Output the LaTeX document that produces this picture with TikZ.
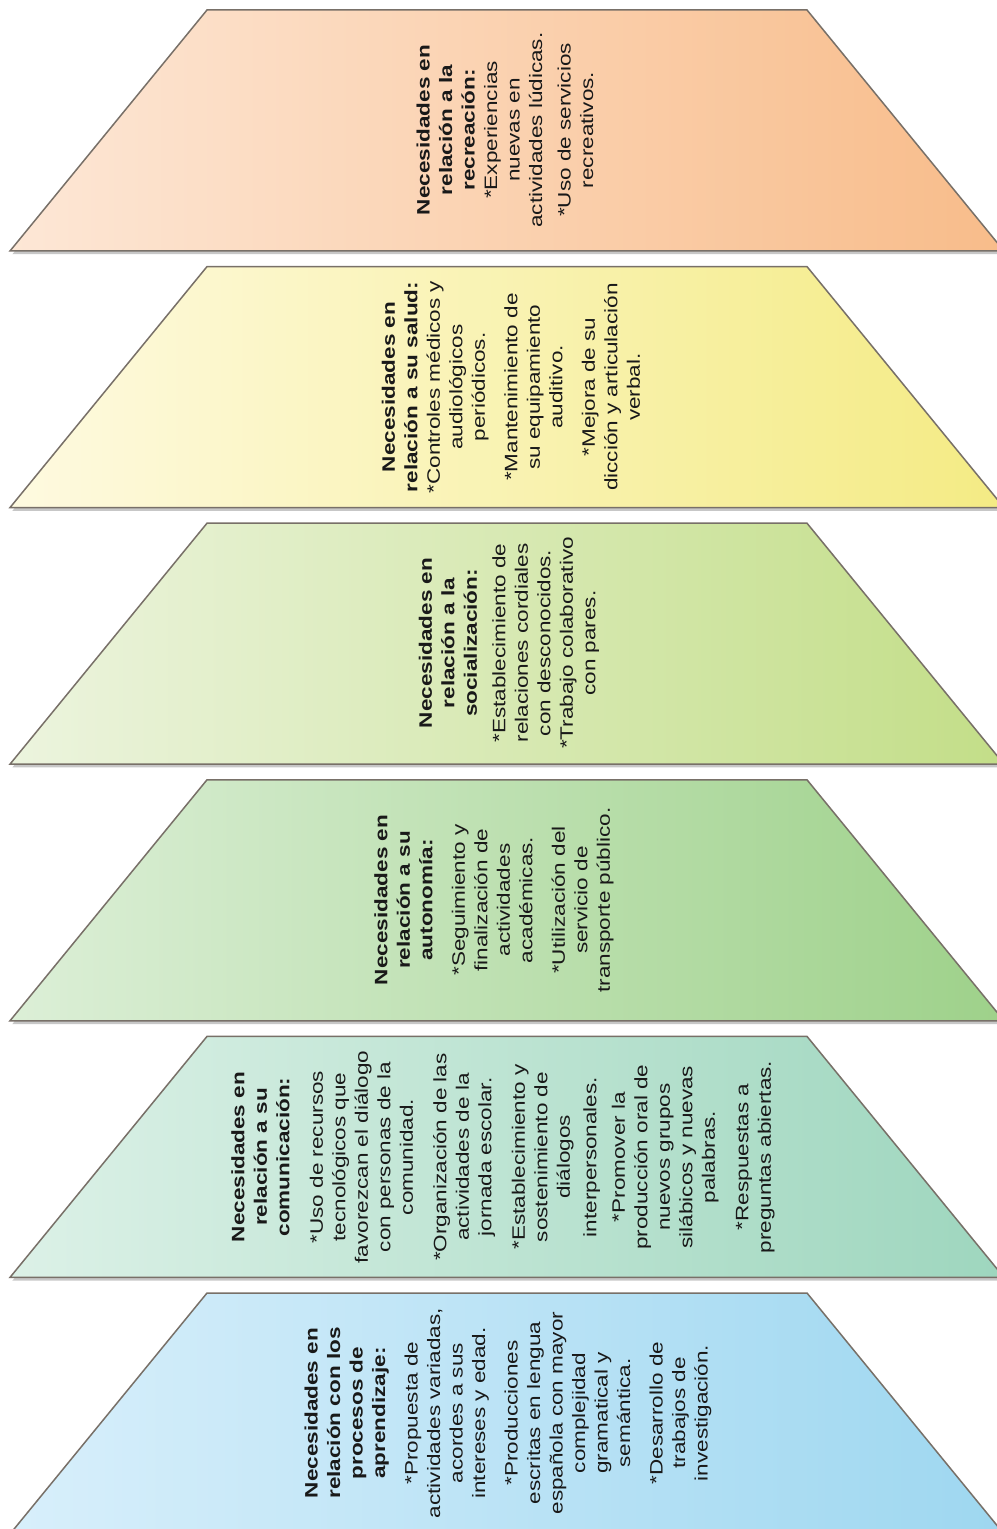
\documentclass[tikz,border=0pt]{standalone}
\usepackage{fontspec}
\setmainfont{Liberation Sans}[FakeStretch=1.25]
\usetikzlibrary{shadows}
\definecolor{edge}{RGB}{120,112,104}
\definecolor{txtc}{RGB}{25,25,25}
\definecolor{orL}{RGB}{253,231,214}\definecolor{orR}{RGB}{248,188,138}
\definecolor{yeL}{RGB}{254,250,224}\definecolor{yeR}{RGB}{244,235,132}
\definecolor{g1L}{RGB}{236,244,222}\definecolor{g1R}{RGB}{195,222,136}
\definecolor{g2L}{RGB}{220,239,215}\definecolor{g2R}{RGB}{158,209,138}
\definecolor{tcL}{RGB}{220,241,231}\definecolor{tcR}{RGB}{158,214,190}
\definecolor{blL}{RGB}{216,239,251}\definecolor{blR}{RGB}{158,215,240}
\newcommand\trapz[4]{%
  \coordinate (#4tl) at (207,#1);
  \coordinate (#4tr) at (807,#1);
  \coordinate (#4br) at (1004,#1+241);
  \coordinate (#4bl) at (10,#1+241);
  \path[trapbox,left color=#2,right color=#3] (#4tl) -- (#4tr) -- (#4br) -- (#4bl) -- cycle;}
\begin{document}
\begin{tikzpicture}[x=0.5pt,y=-0.5pt,
  trapbox/.style={draw=edge,line width=0.75pt,
    drop shadow={shadow xshift=1.2pt,shadow yshift=-1.6pt,opacity=0.22,fill=black}},
  txt/.style={rotate=90,align=center,text=txtc,inner sep=0pt,
    font=\fontsize{9}{11.25}\selectfont}]
\useasboundingbox (0,0) rectangle (996,1529);
\fill[white] (0,0) rectangle (996,1529);
\trapz{10}{orL}{orR}{o}
\trapz{266.6}{yeL}{yeR}{y}
\trapz{523.2}{g1L}{g1R}{s}
\trapz{779.8}{g2L}{g2R}{a}
\trapz{1036.4}{tcL}{tcR}{c}
\trapz{1293}{blL}{blR}{b}
\node[txt] (torange) at (505,130) {\textbf{Necesidades en}\\\textbf{relación a la}\\\textbf{recreación:}\\*Experiencias\\nuevas en\\actividades lúdicas.\\[3pt]*Uso de servicios\\recreativos.};
\node[txt] (tyellow) at (511,387) {\textbf{Necesidades en}\\\textbf{relación a su salud:}\\*Controles médicos y\\audiológicos\\periódicos.\\[5pt]*Mantenimiento de\\su equipamiento\\auditivo.\\[5pt]*Mejora de su\\dicción y articulación\\verbal.};
\node[txt] (tsocial) at (509,643) {\textbf{Necesidades en}\\\textbf{relación a la}\\\textbf{socialización:}\\[3pt]*Establecimiento de\\relaciones cordiales\\con desconocidos.\\*Trabajo colaborativo\\con pares.};
\node[txt] (tauto) at (494,900) {\textbf{Necesidades en}\\\textbf{relación a su}\\\textbf{autonomía:}\\[5pt]*Seguimiento y\\finalización de\\actividades\\académicas.\\[5pt]*Utilización del\\servicio de\\transporte público.};
\node[txt] (tcomu) at (503,1157) {\textbf{Necesidades en}\\\textbf{relación a su}\\\textbf{comunicación:}\\[5.5pt]*Uso de recursos\\tecnológicos que\\favorezcan el diálogo\\con personas de la\\comunidad.\\[5.5pt]*Organización de las\\actividades de la\\jornada escolar.\\[5.5pt]*Establecimiento y\\sostenimiento de\\diálogos\\[2pt]interpersonales.\\[3pt]*Promover la\\producción oral de\\nuevos grupos\\silábicos y nuevas\\palabras.\\[5.5pt]*Respuestas a\\preguntas abiertas.};
\node[txt] (tlearn) at (508,1413) {\textbf{Necesidades en}\\\textbf{relación con los}\\\textbf{procesos de}\\\textbf{aprendizaje:}\\[5pt]*Propuesta de\\actividades variadas,\\acordes a sus\\intereses y edad.\\[5pt]*Producciones\\escritas en lengua\\española con mayor\\complejidad\\gramatical y\\semántica.\\[5pt]*Desarrollo de\\trabajos de\\investigación.};
\end{tikzpicture}
\end{document}
